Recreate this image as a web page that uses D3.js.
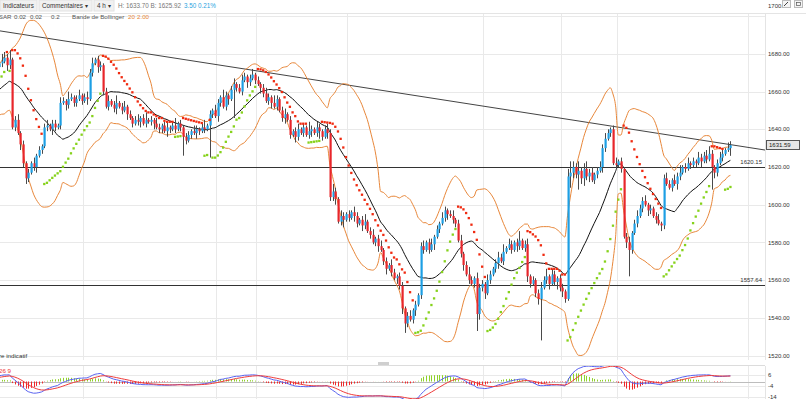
<!DOCTYPE html>
<html>
<head>
<meta charset="utf-8">
<script src="https://cdn.jsdelivr.net/npm/d3@7"></script>
<style>
body { margin: 0; background: #fff; }
svg text { font-family: "Liberation Sans", Arial, sans-serif; }
</style>
</head>
<body>
<svg id="chart" width="806" height="399"></svg>
<script>
// ---- données (4h) ----
var firstOpen = 1648;
// bougies avant l'écran, seulement pour les moyennes
var warmCloses = [1650, 1654, 1652, 1656, 1655, 1658, 1657, 1655, 1659, 1661,
                  1658, 1660, 1663, 1661, 1664, 1666, 1668, 1671, 1673, 1675];
var closes = [
  1676, 1678, 1674, 1677, 1641, 1645, 1638, 1632, 1622, 1614,
  1617, 1622, 1620, 1626, 1629, 1631, 1641, 1642, 1640, 1643,
  1641, 1642, 1654, 1655, 1653, 1656, 1657, 1654, 1656, 1658,
  1655, 1657, 1656, 1670, 1675, 1677, 1673, 1674, 1660, 1652,
  1655, 1653, 1651, 1654, 1652, 1650, 1652, 1648, 1646, 1643,
  1645, 1644, 1646, 1643, 1645, 1644, 1645, 1643, 1641, 1640,
  1642, 1639, 1641, 1640, 1642, 1640, 1643, 1641, 1636, 1634,
  1637, 1639, 1638, 1640, 1639, 1641, 1640, 1642, 1648, 1650,
  1647, 1654, 1657, 1652, 1658, 1656, 1661, 1664, 1662, 1660,
  1666, 1668, 1665, 1667, 1669, 1666, 1664, 1662, 1659, 1655,
  1657, 1654, 1652, 1656, 1650, 1646, 1648, 1645, 1637, 1639,
  1636, 1640, 1638, 1641, 1637, 1639, 1640, 1638, 1641, 1639,
  1636, 1640, 1638, 1604, 1607, 1603, 1591, 1594, 1592, 1595,
  1593, 1596, 1594, 1590, 1592, 1589, 1591, 1586, 1584, 1580,
  1582, 1578, 1576, 1570, 1566, 1568, 1564, 1561, 1562, 1557,
  1545, 1537, 1541, 1539, 1544, 1547, 1552, 1578, 1576, 1580,
  1576, 1579, 1583, 1587, 1590, 1593, 1597, 1595, 1594, 1592,
  1590, 1581, 1574, 1568, 1563, 1560, 1558, 1561, 1542, 1556,
  1558, 1553, 1560, 1563, 1566, 1569, 1572, 1570, 1575, 1577,
  1579, 1576, 1580, 1578, 1581, 1577, 1579, 1562, 1558, 1560,
  1553, 1550, 1556, 1560, 1562, 1558, 1563, 1559, 1561, 1556,
  1554, 1550, 1615, 1617, 1620, 1616, 1618, 1614, 1619, 1615,
  1617, 1613, 1616, 1618, 1620, 1630, 1635, 1638, 1640, 1622,
  1621, 1623, 1619, 1583, 1580, 1576, 1585, 1590, 1594, 1598,
  1602, 1600, 1597, 1598, 1594, 1592, 1590, 1589, 1614, 1611,
  1609, 1613, 1611, 1615, 1617, 1620, 1619, 1622, 1621, 1623,
  1622, 1625, 1623, 1626, 1624, 1627, 1620, 1617, 1622, 1625,
  1627, 1629, 1630, 1631.59
];
// mèches : écart du plus haut / plus bas par rapport au corps (warm-up inclus)
var hiExt = [
  2, 1, 3, 2, 1, 2, 3, 1, 2, 2, 1, 3, 2, 2, 1, 2, 3, 1, 2, 4,
  4, 3, 2, 5, 1, 2, 3, 1, 2, 1,  2, 1, 3, 1, 2, 1, 2, 3, 1, 2,
  2, 1, 3, 2, 1, 4, 2, 1, 2, 3,  1, 2, 3, 2, 3, 1, 2, 2, 1, 2,
  3, 1, 2, 4, 1, 2, 3, 1, 2, 1,  2, 3, 1, 2, 4, 1, 2, 1, 3, 2,
  1, 2, 3, 1, 2, 4, 1, 2, 1, 2,  2, 1, 3, 2, 1, 2, 4, 1, 2, 1,
  3, 2, 1, 4, 2, 1, 2, 3, 1, 2,  3, 2, 1, 2, 3, 1, 2, 1, 2, 3,
  2, 1, 4, 2, 1, 2, 3, 1, 2, 1,  2, 3, 1, 2, 1, 5, 2, 1, 3, 2,
  1, 2, 3, 2, 4, 2, 1, 3, 2, 1,  2, 1, 3, 2, 1, 2, 4, 1, 2, 3,
  1, 2, 3, 1, 2, 1, 3, 2, 1, 2,  2, 1, 2, 3, 1, 2, 1, 2, 3, 1,
  2, 3, 1, 2, 1, 3, 2, 1, 2, 3,  1, 2, 3, 1, 2, 4, 2, 1, 3, 2,
  2, 1, 3, 2, 1, 2, 3, 2, 4, 1,  3, 2, 1, 2, 5, 1, 2, 3, 1, 2,
  1, 2, 3, 2, 4, 1, 3, 2, 1, 2,  2, 1, 4, 6, 3, 2, 5, 2, 3, 4,
  2, 3, 1, 2, 3, 2, 3, 2, 1, 2,  3, 1, 2, 1, 2, 3, 1, 2, 3, 2,
  2, 3, 1, 2, 1, 2, 3, 1, 2, 3,  2, 1, 3, 2, 4, 1, 2, 3, 1, 2,
  1, 3, 2, 2, 3, 4, 2, 1, 2, 3,  2, 1, 3, 2.11
];
var loExt = [
  1, 2, 1, 3, 2, 1, 2, 2, 1, 3, 2, 1, 2, 1, 3, 2, 1, 2, 1, 2,
  2, 1, 3, 2, 1, 2, 1, 3, 2, 3,  2, 1, 2, 3, 1, 2, 1, 2, 1, 3,
  2, 1, 2, 1, 3, 2, 1, 2, 2, 1,  2, 1, 3, 1, 2, 1, 3, 2, 2, 1,
  2, 1, 2, 3, 1, 2, 1, 3, 1, 2,  1, 2, 3, 1, 2, 1, 2, 3, 1, 2,
  2, 1, 3, 2, 1, 2, 1, 2, 10, 2, 1, 2, 1, 3, 2, 1, 2, 1, 17, 2,
  1, 3, 2, 1, 2, 3, 1, 15, 2, 1, 2, 1, 3, 2, 1, 2, 1, 3, 2, 1,
  2, 3, 1, 2, 1, 2, 3, 1, 2, 1,  3, 2, 1, 2, 1, 2, 3, 1, 2, 4,
  2, 1, 3, 2, 2, 3, 1, 2, 4, 1,  2, 1, 3, 2, 1, 3, 2, 1, 2, 1,
  2, 3, 1, 2, 3, 1, 2, 1, 3, 2,  3, 5, 2, 1, 2, 3, 1, 2, 2, 1,
  2, 1, 3, 1, 2, 1, 2, 3, 1, 2,  2, 1, 2, 3, 1, 2, 1, 2, 9, 3,
  2, 3, 1, 2, 1, 2, 3, 1, 2, 1,  1, 2, 1, 3, 2, 1, 2, 3, 2, 1,
  2, 3, 22, 1, 2, 3, 1, 2, 4, 2, 3, 2, 1, 6, 3, 2, 8, 3, 4, 2,
  3, 1, 2, 2, 1, 3, 2, 1, 2, 1,  2, 1, 2, 1, 3, 14, 2, 1, 2, 1,
  2, 1, 3, 2, 1, 2, 1, 3, 2, 1,  1, 2, 1, 3, 2, 1, 2, 1, 2, 1,
  2, 1, 3, 1, 2, 1, 12, 3, 2, 1, 2, 1, 1, 4.08
];
var yTicks = [1520, 1540, 1560, 1580, 1600, 1620, 1640, 1660, 1680, 1700];
var macdTicks = [6, -4, -14];
var levels = [1620.15, 1557.64];
var trendPts = [[-1, 1692.3], [286, 1629.0]];   // [bougie, prix]
var sessionIdx = [30.5, 80.5, 95.5, 129.5, 180.5, 209.5, 230.5, 279.5];
var lastPrice = 1631.59;

var svg = d3.select("#chart");
var W = 806, plotR = 765, pTop = 13, pBot = 360, mTop = 366, mBot = 399;

// construire les OHLC
var allCloses = warmCloses.concat(closes);
var nWarm = warmCloses.length;
var bars = allCloses.map(function(c, k) {
    var o = k === 0 ? firstOpen : allCloses[k - 1];
    return {
        i: k - nWarm, o: o, c: c,
        h: Math.max(o, c) + (hiExt[k] || 1),
        l: Math.min(o, c) - (loExt[k] || 1)
    };
});

// échelles
var x = d3.scaleLinear().domain([0, closes.length - 1]).range([1.5, 730.4]);
var y = d3.scaleLinear().domain([1520, 1700]).range([355.5, 16.2]);
var ym = d3.scaleLinear().domain([-14, 6]).range([396.7, 375]);

// ---- indicateurs ----
// Bollinger 20, 2
var boll = [];
for (var k = 19; k < allCloses.length; k++) {
    var win = allCloses.slice(k - 19, k + 1);
    var m = d3.mean(win);
    var sd = Math.sqrt(d3.mean(win, function(v) { return (v - m) * (v - m); }));
    boll.push({ i: k - nWarm, m: m, up: m + 2 * sd, dn: m - 2 * sd });
}

// SAR parabolique 0.02 0.02 0.2
function calcSar(b) {
    var out = [], up = true, af = 0.02, ep = b[0].h, sar = b[0].l;
    out.push({ i: b[0].i, v: sar, up: up });
    for (var k = 1; k < b.length; k++) {
        sar = sar + af * (ep - sar);
        if (up) {
            sar = Math.min(sar, b[k - 1].l, b[Math.max(0, k - 2)].l);
            if (b[k].l < sar) { up = false; sar = ep; ep = b[k].l; af = 0.02; }
            else if (b[k].h > ep) { ep = b[k].h; af = Math.min(af + 0.02, 0.2); }
        } else {
            sar = Math.max(sar, b[k - 1].h, b[Math.max(0, k - 2)].h);
            if (b[k].h > sar) { up = true; sar = ep; ep = b[k].h; af = 0.02; }
            else if (b[k].l < ep) { ep = b[k].l; af = Math.min(af + 0.02, 0.2); }
        }
        out.push({ i: b[k].i, v: sar, up: up });
    }
    return out;
}
var sar = calcSar(bars);

// MACD 12 26 9
function ema(arr, p) {
    var a = 2 / (p + 1), out = [arr[0]];
    for (var k = 1; k < arr.length; k++) out.push(arr[k] * a + out[k - 1] * (1 - a));
    return out;
}
var e12 = ema(allCloses, 12), e26 = ema(allCloses, 26);
var macdLine = e12.map(function(v, k) { return v - e26[k]; });
var signal = ema(macdLine, 9);
var macd = macdLine.map(function(v, k) {
    return { i: k - nWarm, m: v, s: signal[k], h: v - signal[k] };
});

// ---- clips ----
var defs = svg.append("defs");
defs.append("clipPath").attr("id", "clipMain").append("rect")
    .attr("x", 0).attr("y", pTop).attr("width", plotR).attr("height", pBot - pTop);
defs.append("clipPath").attr("id", "clipMacd").append("rect")
    .attr("x", 0).attr("y", mTop).attr("width", plotR).attr("height", mBot - mTop);

// ---- grilles ----
var grid = svg.append("g");
grid.selectAll(".gy").data(yTicks).enter().append("line")
    .attr("x1", 0).attr("x2", plotR)
    .attr("y1", function(d) { return Math.round(y(d)) + 0.5; })
    .attr("y2", function(d) { return Math.round(y(d)) + 0.5; })
    .attr("stroke", "#e9e9e9");
grid.selectAll(".gx").data(sessionIdx).enter().append("line")
    .attr("x1", function(d) { return Math.round(x(d)) + 0.5; })
    .attr("x2", function(d) { return Math.round(x(d)) + 0.5; })
    .attr("y1", pTop).attr("y2", pBot)
    .attr("stroke", "#e9e9e9");
grid.selectAll(".gxm").data(sessionIdx).enter().append("line")
    .attr("x1", function(d) { return Math.round(x(d)) + 0.5; })
    .attr("x2", function(d) { return Math.round(x(d)) + 0.5; })
    .attr("y1", mTop).attr("y2", mBot)
    .attr("stroke", "#e9e9e9");
grid.selectAll(".gm").data(macdTicks).enter().append("line")
    .attr("x1", 0).attr("x2", plotR)
    .attr("y1", function(d) { return Math.round(ym(d)) + 0.5; })
    .attr("y2", function(d) { return Math.round(ym(d)) + 0.5; })
    .attr("stroke", "#e9e9e9");
// cadres
grid.append("line").attr("x1", 0).attr("x2", W).attr("y1", pTop + 0.5).attr("y2", pTop + 0.5).attr("stroke", "#e4e4e4");
grid.append("line").attr("x1", 0).attr("x2", plotR).attr("y1", mTop - 0.5).attr("y2", mTop - 0.5).attr("stroke", "#dcdcdc");
grid.append("line").attr("x1", plotR + 0.5).attr("x2", plotR + 0.5).attr("y1", pTop).attr("y2", pBot).attr("stroke", "#e4e4e4");
grid.append("line").attr("x1", plotR + 0.5).attr("x2", plotR + 0.5).attr("y1", mTop).attr("y2", mBot).attr("stroke", "#e4e4e4");
grid.append("rect").attr("x", 378).attr("y", 362).attr("width", 11).attr("height", 3).attr("fill", "#cfcfcf");

// ---- panneau principal ----
var main = svg.append("g").attr("clip-path", "url(#clipMain)");

// niveaux horizontaux
main.selectAll(".lvl").data(levels).enter().append("line")
    .attr("x1", 0).attr("x2", plotR)
    .attr("y1", function(d) { return Math.round(y(d)) + 0.5; })
    .attr("y2", function(d) { return Math.round(y(d)) + 0.5; })
    .attr("stroke", "#333").attr("stroke-width", 1);

// ligne de tendance
main.append("line")
    .attr("x1", x(trendPts[0][0])).attr("y1", y(trendPts[0][1]))
    .attr("x2", x(trendPts[1][0])).attr("y2", y(trendPts[1][1]))
    .attr("stroke", "#444").attr("stroke-width", 1);

// Bollinger
var lineUp = d3.line().x(function(d) { return x(d.i); }).y(function(d) { return y(d.up); }).curve(d3.curveMonotoneX);
var lineDn = d3.line().x(function(d) { return x(d.i); }).y(function(d) { return y(d.dn); }).curve(d3.curveMonotoneX);
var lineMid = d3.line().x(function(d) { return x(d.i); }).y(function(d) { return y(d.m); }).curve(d3.curveMonotoneX);
main.append("path").datum(boll).attr("d", lineUp).attr("fill", "none").attr("stroke", "#e8873a").attr("stroke-width", 1);
main.append("path").datum(boll).attr("d", lineDn).attr("fill", "none").attr("stroke", "#e8873a").attr("stroke-width", 1);
main.append("path").datum(boll).attr("d", lineMid).attr("fill", "none").attr("stroke", "#111").attr("stroke-width", 1);

// bougies
var candles = main.selectAll(".cdl").data(bars).enter().append("g");
candles.append("line")
    .attr("x1", function(d) { return Math.round(x(d.i)) + 0.5; })
    .attr("x2", function(d) { return Math.round(x(d.i)) + 0.5; })
    .attr("y1", function(d) { return y(d.h); })
    .attr("y2", function(d) { return y(d.l); })
    .attr("stroke", "#4a4a4a").attr("stroke-width", 1);
candles.append("rect")
    .attr("x", function(d) { return Math.round(x(d.i)) - 0.5; })
    .attr("width", 2.2)
    .attr("y", function(d) { return y(Math.max(d.o, d.c)); })
    .attr("height", function(d) { return Math.max(1, Math.abs(y(d.o) - y(d.c))); })
    .attr("fill", function(d) { return d.c >= d.o ? "#1d9fe4" : "#e8262b"; });

// SAR
main.selectAll(".sar").data(sar.slice(1)).enter().append("rect")
    .attr("x", function(d) { return x(d.i) - 1.1; })
    .attr("y", function(d) { return y(d.v) - 1.1; })
    .attr("width", 2.3).attr("height", 2.3)
    .attr("fill", function(d) { return d.up ? "#86d21b" : "#f02a10"; });

// étiquettes des niveaux
svg.selectAll(".lvlTxt").data(levels).enter().append("text")
    .attr("x", 762).attr("y", function(d) { return y(d) - 2.5; })
    .attr("text-anchor", "end")
    .attr("font-size", 6).attr("fill", "#333")
    .text(function(d) { return d.toFixed(2); });

// ---- MACD ----
var mg = svg.append("g").attr("clip-path", "url(#clipMacd)");
mg.append("line").attr("x1", 0).attr("x2", plotR)
    .attr("y1", Math.round(ym(0)) + 0.5).attr("y2", Math.round(ym(0)) + 0.5)
    .attr("stroke", "#bdbdbd");
mg.selectAll(".hist").data(macd).enter().append("line")
    .attr("x1", function(d) { return Math.round(x(d.i)) + 0.5; })
    .attr("x2", function(d) { return Math.round(x(d.i)) + 0.5; })
    .attr("y1", ym(0))
    .attr("y2", function(d) { return ym(d.h); })
    .attr("stroke", function(d) { return d.h >= 0 ? "#8fd12a" : "#f0282a"; })
    .attr("stroke-width", 1);
var lm = d3.line().x(function(d) { return x(d.i); }).y(function(d) { return ym(d.m); });
var ls = d3.line().x(function(d) { return x(d.i); }).y(function(d) { return ym(d.s); });
mg.append("path").datum(macd).attr("d", lm).attr("fill", "none").attr("stroke", "#5a63f0").attr("stroke-width", 1);
mg.append("path").datum(macd).attr("d", ls).attr("fill", "none").attr("stroke", "#ef3b3b").attr("stroke-width", 1);

// ---- axes à droite ----
svg.selectAll(".yl").data(yTicks).enter().append("text")
    .attr("x", 768)
    .attr("y", function(d) { return d === 1700 ? 6 : y(d); })
    .attr("dy", "0.35em")
    .attr("font-size", 6).attr("fill", "#333")
    .text(function(d) { return d.toFixed(2); });
svg.selectAll(".ml").data(macdTicks).enter().append("text")
    .attr("x", 768)
    .attr("y", function(d) { return ym(d); })
    .attr("dy", "0.35em")
    .attr("font-size", 6).attr("fill", "#333")
    .text(function(d) { return d; });

// prix courant
svg.append("rect").attr("x", 766.5).attr("y", Math.round(y(lastPrice)) - 4.5)
    .attr("width", 33).attr("height", 9)
    .attr("fill", "#e6e6e6").attr("stroke", "#555");
svg.append("text").attr("x", 769).attr("y", y(lastPrice)).attr("dy", "0.35em")
    .attr("font-size", 6).attr("fill", "#222").text(lastPrice.toFixed(2));

// ---- barre d'outils ----
var tb = svg.append("g");
[[0, 37, "Indicateurs"], [39, 53, "Commentaires \u25BE"], [94, 20, "4 h \u25BE"]].forEach(function(b) {
    tb.append("rect").attr("x", b[0]).attr("y", 0).attr("width", b[1]).attr("height", 11)
        .attr("fill", "#f1f1f1").attr("stroke", "#e2e2e2");
    tb.append("text").attr("x", b[0] + 3).attr("y", 8).attr("font-size", 6.3)
        .attr("fill", "#333").text(b[2]);
});
tb.append("text").attr("x", 118).attr("y", 8).attr("font-size", 6.3).attr("fill", "#777")
    .text("H: 1633.70  B: 1625.92");
tb.append("text").attr("x", 184).attr("y", 8).attr("font-size", 6.3).attr("fill", "#2ba3e0")
    .text("3.50  0.21%");
tb.append("rect").attr("x", 782.5).attr("y", 0.5).attr("width", 8).attr("height", 7)
    .attr("fill", "#f4f4f4").attr("stroke", "#bbb");
tb.append("line").attr("x1", 784).attr("y1", 6).attr("x2", 788).attr("y2", 2).attr("stroke", "#444");
tb.append("rect").attr("x", 794.5).attr("y", 0.5).attr("width", 8).attr("height", 7)
    .attr("fill", "#f4f4f4").attr("stroke", "#bbb");
tb.append("rect").attr("x", 796.5).attr("y", 2.5).attr("width", 4).attr("height", 3)
    .attr("fill", "none").attr("stroke", "#555").attr("stroke-width", 0.7);

// légendes
var lg = svg.append("text").attr("y", 19).attr("font-size", 6.2).attr("fill", "#555");
lg.append("tspan").attr("x", 11.5).attr("text-anchor", "end").text("e SAR");
lg.append("tspan").attr("x", 14).attr("text-anchor", "start").text("0.02");
lg.append("tspan").attr("x", 30).text("0.02");
lg.append("tspan").attr("x", 51).text("0.2");
var lg2 = svg.append("text").attr("y", 19).attr("font-size", 6.2).attr("fill", "#555");
lg2.append("tspan").attr("x", 72).text("Bande de Bollinger");
lg2.append("tspan").attr("x", 128).attr("fill", "#e8873a").text("20");
lg2.append("tspan").attr("x", 137).attr("fill", "#e8873a").text("2.00");
svg.append("text").attr("x", -1).attr("y", 358).attr("font-size", 6.2).attr("fill", "#333")
    .text("re indicatif");
svg.append("text").attr("x", -1).attr("y", 373).attr("font-size", 6.2).attr("fill", "#e33")
    .text("26  9");
</script>
</body>
</html>
